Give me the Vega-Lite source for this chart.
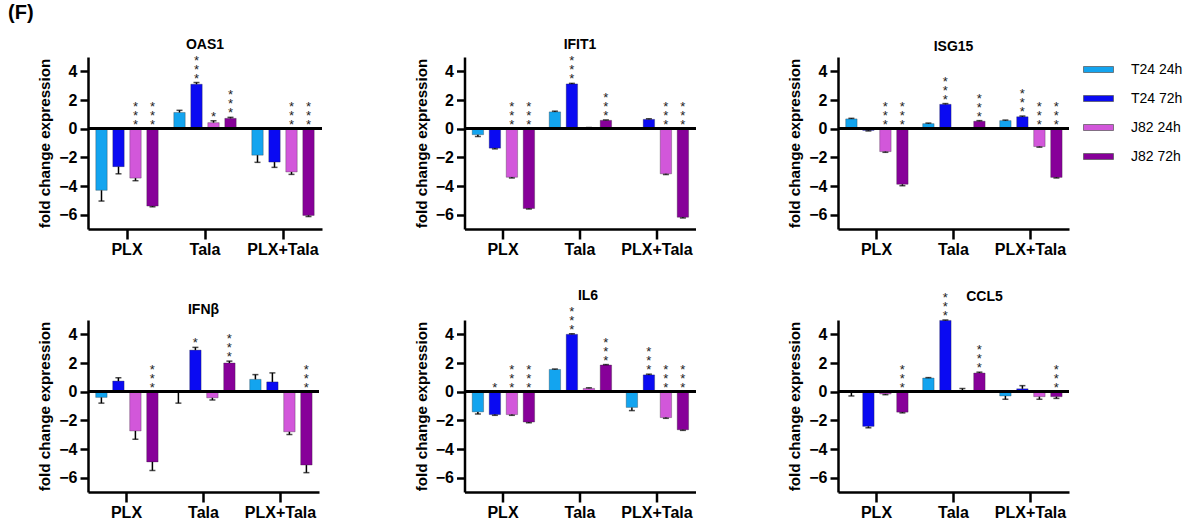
{
  "$schema": "https://vega.github.io/schema/vega-lite/v6.json",
  "padding": {"left": 8, "top": 2, "right": 0, "bottom": 0},
  "bounds": "flush",
  "columns": 3,
  "spacing": {"row": 91, "column": 142.5},
  "title": {"text": "(F)", "anchor": "start", "fontSize": 20, "fontWeight": "bold", "font": "Liberation Sans", "color": "black", "offset": 15, "dx": -80},
  "datasets": {
    "d": [
      {"g": "OAS1", "t": "PLX", "c": "T24 24h", "v": -4.3, "e": 0.75, "s": ""},
      {"g": "OAS1", "t": "PLX", "c": "T24 72h", "v": -2.65, "e": 0.5, "s": ""},
      {"g": "OAS1", "t": "PLX", "c": "J82 24h", "v": -3.45, "e": 0.18, "s": "***"},
      {"g": "OAS1", "t": "PLX", "c": "J82 72h", "v": -5.4, "e": 0.05, "s": "***"},
      {"g": "OAS1", "t": "Tala", "c": "T24 24h", "v": 1.13, "e": 0.15, "s": ""},
      {"g": "OAS1", "t": "Tala", "c": "T24 72h", "v": 3.1, "e": 0.12, "s": "***"},
      {"g": "OAS1", "t": "Tala", "c": "J82 24h", "v": 0.42, "e": 0.13, "s": "*"},
      {"g": "OAS1", "t": "Tala", "c": "J82 72h", "v": 0.72, "e": 0.07, "s": "***"},
      {"g": "OAS1", "t": "PLX+Tala", "c": "T24 24h", "v": -1.85, "e": 0.5, "s": ""},
      {"g": "OAS1", "t": "PLX+Tala", "c": "T24 72h", "v": -2.33, "e": 0.37, "s": ""},
      {"g": "OAS1", "t": "PLX+Tala", "c": "J82 24h", "v": -3.02, "e": 0.17, "s": "***"},
      {"g": "OAS1", "t": "PLX+Tala", "c": "J82 72h", "v": -6.05, "e": 0.08, "s": "***"},

      {"g": "IFIT1", "t": "PLX", "c": "T24 24h", "v": -0.42, "e": 0.12, "s": ""},
      {"g": "IFIT1", "t": "PLX", "c": "T24 72h", "v": -1.36, "e": 0.05, "s": ""},
      {"g": "IFIT1", "t": "PLX", "c": "J82 24h", "v": -3.39, "e": 0.05, "s": "***"},
      {"g": "IFIT1", "t": "PLX", "c": "J82 72h", "v": -5.57, "e": 0.04, "s": "***"},
      {"g": "IFIT1", "t": "Tala", "c": "T24 24h", "v": 1.17, "e": 0.05, "s": ""},
      {"g": "IFIT1", "t": "Tala", "c": "T24 72h", "v": 3.12, "e": 0.04, "s": "***"},
      {"g": "IFIT1", "t": "Tala", "c": "J82 24h", "v": 0.06, "e": 0.02, "s": ""},
      {"g": "IFIT1", "t": "Tala", "c": "J82 72h", "v": 0.58, "e": 0.03, "s": "***"},
      {"g": "IFIT1", "t": "PLX+Tala", "c": "T24 24h", "v": 0.0, "e": 0.0, "s": ""},
      {"g": "IFIT1", "t": "PLX+Tala", "c": "T24 72h", "v": 0.65, "e": 0.04, "s": ""},
      {"g": "IFIT1", "t": "PLX+Tala", "c": "J82 24h", "v": -3.15, "e": 0.05, "s": "***"},
      {"g": "IFIT1", "t": "PLX+Tala", "c": "J82 72h", "v": -6.18, "e": 0.05, "s": "***"},

      {"g": "ISG15", "t": "PLX", "c": "T24 24h", "v": 0.68, "e": 0.04, "s": ""},
      {"g": "ISG15", "t": "PLX", "c": "T24 72h", "v": -0.12, "e": 0.04, "s": ""},
      {"g": "ISG15", "t": "PLX", "c": "J82 24h", "v": -1.6, "e": 0.05, "s": "***"},
      {"g": "ISG15", "t": "PLX", "c": "J82 72h", "v": -3.88, "e": 0.1, "s": "***"},
      {"g": "ISG15", "t": "Tala", "c": "T24 24h", "v": 0.35, "e": 0.04, "s": ""},
      {"g": "ISG15", "t": "Tala", "c": "T24 72h", "v": 1.7, "e": 0.05, "s": "***"},
      {"g": "ISG15", "t": "Tala", "c": "J82 24h", "v": 0.0, "e": 0.0, "s": ""},
      {"g": "ISG15", "t": "Tala", "c": "J82 72h", "v": 0.52, "e": 0.04, "s": "***"},
      {"g": "ISG15", "t": "PLX+Tala", "c": "T24 24h", "v": 0.56, "e": 0.04, "s": ""},
      {"g": "ISG15", "t": "PLX+Tala", "c": "T24 72h", "v": 0.83, "e": 0.05, "s": "***"},
      {"g": "ISG15", "t": "PLX+Tala", "c": "J82 24h", "v": -1.25, "e": 0.04, "s": "***"},
      {"g": "ISG15", "t": "PLX+Tala", "c": "J82 72h", "v": -3.4, "e": 0.04, "s": "***"},

      {"g": "IFNβ", "t": "PLX", "c": "T24 24h", "v": -0.4, "e": 0.4, "s": ""},
      {"g": "IFNβ", "t": "PLX", "c": "T24 72h", "v": 0.74, "e": 0.23, "s": ""},
      {"g": "IFNβ", "t": "PLX", "c": "J82 24h", "v": -2.74, "e": 0.58, "s": ""},
      {"g": "IFNβ", "t": "PLX", "c": "J82 72h", "v": -4.9, "e": 0.6, "s": "***"},
      {"g": "IFNβ", "t": "Tala", "c": "T24 24h", "v": -0.05, "e": 0.75, "s": ""},
      {"g": "IFNβ", "t": "Tala", "c": "T24 72h", "v": 2.9, "e": 0.19, "s": "*"},
      {"g": "IFNβ", "t": "Tala", "c": "J82 24h", "v": -0.43, "e": 0.15, "s": ""},
      {"g": "IFNβ", "t": "Tala", "c": "J82 72h", "v": 2.0, "e": 0.13, "s": "***"},
      {"g": "IFNβ", "t": "PLX+Tala", "c": "T24 24h", "v": 0.86, "e": 0.33, "s": ""},
      {"g": "IFNβ", "t": "PLX+Tala", "c": "T24 72h", "v": 0.68, "e": 0.63, "s": ""},
      {"g": "IFNβ", "t": "PLX+Tala", "c": "J82 24h", "v": -2.8, "e": 0.19, "s": ""},
      {"g": "IFNβ", "t": "PLX+Tala", "c": "J82 72h", "v": -5.12, "e": 0.53, "s": "***"},

      {"g": "IL6", "t": "PLX", "c": "T24 24h", "v": -1.41, "e": 0.14, "s": ""},
      {"g": "IL6", "t": "PLX", "c": "T24 72h", "v": -1.6, "e": 0.05, "s": "*"},
      {"g": "IL6", "t": "PLX", "c": "J82 24h", "v": -1.6, "e": 0.05, "s": "***"},
      {"g": "IL6", "t": "PLX", "c": "J82 72h", "v": -2.12, "e": 0.05, "s": "***"},
      {"g": "IL6", "t": "Tala", "c": "T24 24h", "v": 1.55, "e": 0.03, "s": ""},
      {"g": "IL6", "t": "Tala", "c": "T24 72h", "v": 4.0, "e": 0.04, "s": "***"},
      {"g": "IL6", "t": "Tala", "c": "J82 24h", "v": 0.23, "e": 0.04, "s": ""},
      {"g": "IL6", "t": "Tala", "c": "J82 72h", "v": 1.86, "e": 0.03, "s": "***"},
      {"g": "IL6", "t": "PLX+Tala", "c": "T24 24h", "v": -1.1, "e": 0.22, "s": ""},
      {"g": "IL6", "t": "PLX+Tala", "c": "T24 72h", "v": 1.17, "e": 0.05, "s": "***"},
      {"g": "IL6", "t": "PLX+Tala", "c": "J82 24h", "v": -1.81, "e": 0.05, "s": "***"},
      {"g": "IL6", "t": "PLX+Tala", "c": "J82 72h", "v": -2.66, "e": 0.04, "s": "***"},

      {"g": "CCL5", "t": "PLX", "c": "T24 24h", "v": -0.05, "e": 0.25, "s": ""},
      {"g": "CCL5", "t": "PLX", "c": "T24 72h", "v": -2.42, "e": 0.1, "s": ""},
      {"g": "CCL5", "t": "PLX", "c": "J82 24h", "v": -0.16, "e": 0.05, "s": ""},
      {"g": "CCL5", "t": "PLX", "c": "J82 72h", "v": -1.43, "e": 0.05, "s": "***"},
      {"g": "CCL5", "t": "Tala", "c": "T24 24h", "v": 0.95, "e": 0.03, "s": ""},
      {"g": "CCL5", "t": "Tala", "c": "T24 72h", "v": 4.97, "e": 0.03, "s": "***"},
      {"g": "CCL5", "t": "Tala", "c": "J82 24h", "v": 0.02, "e": 0.2, "s": ""},
      {"g": "CCL5", "t": "Tala", "c": "J82 72h", "v": 1.3, "e": 0.06, "s": "***"},
      {"g": "CCL5", "t": "PLX+Tala", "c": "T24 24h", "v": -0.3, "e": 0.23, "s": ""},
      {"g": "CCL5", "t": "PLX+Tala", "c": "T24 72h", "v": 0.2, "e": 0.22, "s": ""},
      {"g": "CCL5", "t": "PLX+Tala", "c": "J82 24h", "v": -0.35, "e": 0.18, "s": ""},
      {"g": "CCL5", "t": "PLX+Tala", "c": "J82 72h", "v": -0.35, "e": 0.12, "s": "***"}
    ]
  },
  "data": {"name": "d"},
  "transform": [
    {"calculate": "datum.v >= 0 ? datum.v + datum.e : datum.v - datum.e", "as": "ee"},
    {"calculate": "datum.v > 0 ? datum.v + datum.e : 0", "as": "sy"},
    {"calculate": "length(datum.s)", "as": "n"}
  ],
  "resolve": {"scale": {"color": "shared"}},
  "concat": [
    {
      "width": 234, "height": 172,
      "title": {"text": "OAS1"},
      "transform": [{"filter": "datum.g === 'OAS1'"}],
      "layer": [
        {"mark": {"type": "bar", "stroke": "#222", "strokeWidth": 0.5, "strokeOpacity": 0.6},
         "encoding": {
           "x": {"field": "t", "type": "nominal", "title": null, "scale": {"domain": ["PLX", "Tala", "PLX+Tala"], "paddingInner": 0.2, "paddingOuter": 0.1}},
           "xOffset": {"field": "c", "type": "nominal", "scale": {"domain": ["T24 24h", "T24 72h", "J82 24h", "J82 72h"], "paddingInner": 0.33}},
           "y": {"field": "v", "type": "quantitative", "title": "fold change expression", "scale": {"domain": [-7, 5], "nice": false}},
           "color": {"field": "c", "type": "nominal", "scale": {"domain": ["T24 24h", "T24 72h", "J82 24h", "J82 72h"], "range": ["#13a4ef", "#0a0af2", "#d257da", "#870099"]}, "legend": {"title": null, "orient": "none", "legendX": 995, "legendY": -3}}
         }},
        {"mark": {"type": "rule", "color": "black", "strokeWidth": 1.5},
         "encoding": {"x": {"field": "t", "type": "nominal"}, "xOffset": {"field": "c", "type": "nominal"}, "y": {"field": "v", "type": "quantitative"}, "y2": {"field": "ee"}}},
        {"mark": {"type": "tick", "color": "black", "orient": "horizontal", "size": 6, "thickness": 1.5},
         "encoding": {"x": {"field": "t", "type": "nominal"}, "xOffset": {"field": "c", "type": "nominal"}, "y": {"field": "ee", "type": "quantitative"}}},
        {"transform": [{"filter": "datum.n >= 1"}],
         "mark": {"type": "text", "text": "*", "fontSize": 13, "baseline": "alphabetic", "dy": 0, "color": "#222", "font": "Liberation Sans"},
         "encoding": {"x": {"field": "t", "type": "nominal"}, "xOffset": {"field": "c", "type": "nominal"}, "y": {"field": "sy", "type": "quantitative"}}},
        {"transform": [{"filter": "datum.n >= 3"}],
         "mark": {"type": "text", "text": "*", "fontSize": 13, "baseline": "alphabetic", "dy": -9, "color": "#222", "font": "Liberation Sans"},
         "encoding": {"x": {"field": "t", "type": "nominal"}, "xOffset": {"field": "c", "type": "nominal"}, "y": {"field": "sy", "type": "quantitative"}}},
        {"transform": [{"filter": "datum.n >= 3"}],
         "mark": {"type": "text", "text": "*", "fontSize": 13, "baseline": "alphabetic", "dy": -18, "color": "#222", "font": "Liberation Sans"},
         "encoding": {"x": {"field": "t", "type": "nominal"}, "xOffset": {"field": "c", "type": "nominal"}, "y": {"field": "sy", "type": "quantitative"}}},
        {"mark": {"type": "rule", "color": "black", "strokeWidth": 2.5}, "encoding": {"y": {"datum": 0}}}
      ]
    },
    {
      "width": 231, "height": 172,
      "title": {"text": "IFIT1"},
      "transform": [{"filter": "datum.g === 'IFIT1'"}],
      "layer": [
        {"mark": {"type": "bar", "stroke": "#222", "strokeWidth": 0.5, "strokeOpacity": 0.6},
         "encoding": {
           "x": {"field": "t", "type": "nominal", "title": null, "scale": {"domain": ["PLX", "Tala", "PLX+Tala"], "paddingInner": 0.2, "paddingOuter": 0.1}},
           "xOffset": {"field": "c", "type": "nominal", "scale": {"domain": ["T24 24h", "T24 72h", "J82 24h", "J82 72h"], "paddingInner": 0.33}},
           "y": {"field": "v", "type": "quantitative", "title": "fold change expression", "scale": {"domain": [-7, 5], "nice": false}},
           "color": {"field": "c", "type": "nominal", "legend": {"title": null, "orient": "none", "legendX": 995, "legendY": -3}}
         }},
        {"mark": {"type": "rule", "color": "black", "strokeWidth": 1.5},
         "encoding": {"x": {"field": "t", "type": "nominal"}, "xOffset": {"field": "c", "type": "nominal"}, "y": {"field": "v", "type": "quantitative"}, "y2": {"field": "ee"}}},
        {"mark": {"type": "tick", "color": "black", "orient": "horizontal", "size": 6, "thickness": 1.5},
         "encoding": {"x": {"field": "t", "type": "nominal"}, "xOffset": {"field": "c", "type": "nominal"}, "y": {"field": "ee", "type": "quantitative"}}},
        {"transform": [{"filter": "datum.n >= 1"}],
         "mark": {"type": "text", "text": "*", "fontSize": 13, "baseline": "alphabetic", "dy": 0, "color": "#222", "font": "Liberation Sans"},
         "encoding": {"x": {"field": "t", "type": "nominal"}, "xOffset": {"field": "c", "type": "nominal"}, "y": {"field": "sy", "type": "quantitative"}}},
        {"transform": [{"filter": "datum.n >= 3"}],
         "mark": {"type": "text", "text": "*", "fontSize": 13, "baseline": "alphabetic", "dy": -9, "color": "#222", "font": "Liberation Sans"},
         "encoding": {"x": {"field": "t", "type": "nominal"}, "xOffset": {"field": "c", "type": "nominal"}, "y": {"field": "sy", "type": "quantitative"}}},
        {"transform": [{"filter": "datum.n >= 3"}],
         "mark": {"type": "text", "text": "*", "fontSize": 13, "baseline": "alphabetic", "dy": -18, "color": "#222", "font": "Liberation Sans"},
         "encoding": {"x": {"field": "t", "type": "nominal"}, "xOffset": {"field": "c", "type": "nominal"}, "y": {"field": "sy", "type": "quantitative"}}},
        {"mark": {"type": "rule", "color": "black", "strokeWidth": 2.5}, "encoding": {"y": {"datum": 0}}}
      ]
    },
    {
      "width": 231, "height": 172,
      "title": {"text": "ISG15"},
      "transform": [{"filter": "datum.g === 'ISG15'"}],
      "layer": [
        {"mark": {"type": "bar", "stroke": "#222", "strokeWidth": 0.5, "strokeOpacity": 0.6},
         "encoding": {
           "x": {"field": "t", "type": "nominal", "title": null, "scale": {"domain": ["PLX", "Tala", "PLX+Tala"], "paddingInner": 0.2, "paddingOuter": 0.1}},
           "xOffset": {"field": "c", "type": "nominal", "scale": {"domain": ["T24 24h", "T24 72h", "J82 24h", "J82 72h"], "paddingInner": 0.33}},
           "y": {"field": "v", "type": "quantitative", "title": "fold change expression", "scale": {"domain": [-7, 5], "nice": false}},
           "color": {"field": "c", "type": "nominal", "legend": {"title": null, "orient": "none", "legendX": 995, "legendY": -3}}
         }},
        {"mark": {"type": "rule", "color": "black", "strokeWidth": 1.5},
         "encoding": {"x": {"field": "t", "type": "nominal"}, "xOffset": {"field": "c", "type": "nominal"}, "y": {"field": "v", "type": "quantitative"}, "y2": {"field": "ee"}}},
        {"mark": {"type": "tick", "color": "black", "orient": "horizontal", "size": 6, "thickness": 1.5},
         "encoding": {"x": {"field": "t", "type": "nominal"}, "xOffset": {"field": "c", "type": "nominal"}, "y": {"field": "ee", "type": "quantitative"}}},
        {"transform": [{"filter": "datum.n >= 1"}],
         "mark": {"type": "text", "text": "*", "fontSize": 13, "baseline": "alphabetic", "dy": 0, "color": "#222", "font": "Liberation Sans"},
         "encoding": {"x": {"field": "t", "type": "nominal"}, "xOffset": {"field": "c", "type": "nominal"}, "y": {"field": "sy", "type": "quantitative"}}},
        {"transform": [{"filter": "datum.n >= 3"}],
         "mark": {"type": "text", "text": "*", "fontSize": 13, "baseline": "alphabetic", "dy": -9, "color": "#222", "font": "Liberation Sans"},
         "encoding": {"x": {"field": "t", "type": "nominal"}, "xOffset": {"field": "c", "type": "nominal"}, "y": {"field": "sy", "type": "quantitative"}}},
        {"transform": [{"filter": "datum.n >= 3"}],
         "mark": {"type": "text", "text": "*", "fontSize": 13, "baseline": "alphabetic", "dy": -18, "color": "#222", "font": "Liberation Sans"},
         "encoding": {"x": {"field": "t", "type": "nominal"}, "xOffset": {"field": "c", "type": "nominal"}, "y": {"field": "sy", "type": "quantitative"}}},
        {"mark": {"type": "rule", "color": "black", "strokeWidth": 2.5}, "encoding": {"y": {"datum": 0}}}
      ]
    },
    {
      "width": 231, "height": 172,
      "title": {"text": "IFNβ"},
      "transform": [{"filter": "datum.g === 'IFNβ'"}],
      "layer": [
        {"mark": {"type": "bar", "stroke": "#222", "strokeWidth": 0.5, "strokeOpacity": 0.6},
         "encoding": {
           "x": {"field": "t", "type": "nominal", "title": null, "scale": {"domain": ["PLX", "Tala", "PLX+Tala"], "paddingInner": 0.2, "paddingOuter": 0.1}},
           "xOffset": {"field": "c", "type": "nominal", "scale": {"domain": ["T24 24h", "T24 72h", "J82 24h", "J82 72h"], "paddingInner": 0.33}},
           "y": {"field": "v", "type": "quantitative", "title": "fold change expression", "scale": {"domain": [-7, 5], "nice": false}},
           "color": {"field": "c", "type": "nominal", "legend": {"title": null, "orient": "none", "legendX": 995, "legendY": -3}}
         }},
        {"mark": {"type": "rule", "color": "black", "strokeWidth": 1.5},
         "encoding": {"x": {"field": "t", "type": "nominal"}, "xOffset": {"field": "c", "type": "nominal"}, "y": {"field": "v", "type": "quantitative"}, "y2": {"field": "ee"}}},
        {"mark": {"type": "tick", "color": "black", "orient": "horizontal", "size": 6, "thickness": 1.5},
         "encoding": {"x": {"field": "t", "type": "nominal"}, "xOffset": {"field": "c", "type": "nominal"}, "y": {"field": "ee", "type": "quantitative"}}},
        {"transform": [{"filter": "datum.n >= 1"}],
         "mark": {"type": "text", "text": "*", "fontSize": 13, "baseline": "alphabetic", "dy": 0, "color": "#222", "font": "Liberation Sans"},
         "encoding": {"x": {"field": "t", "type": "nominal"}, "xOffset": {"field": "c", "type": "nominal"}, "y": {"field": "sy", "type": "quantitative"}}},
        {"transform": [{"filter": "datum.n >= 3"}],
         "mark": {"type": "text", "text": "*", "fontSize": 13, "baseline": "alphabetic", "dy": -9, "color": "#222", "font": "Liberation Sans"},
         "encoding": {"x": {"field": "t", "type": "nominal"}, "xOffset": {"field": "c", "type": "nominal"}, "y": {"field": "sy", "type": "quantitative"}}},
        {"transform": [{"filter": "datum.n >= 3"}],
         "mark": {"type": "text", "text": "*", "fontSize": 13, "baseline": "alphabetic", "dy": -18, "color": "#222", "font": "Liberation Sans"},
         "encoding": {"x": {"field": "t", "type": "nominal"}, "xOffset": {"field": "c", "type": "nominal"}, "y": {"field": "sy", "type": "quantitative"}}},
        {"mark": {"type": "rule", "color": "black", "strokeWidth": 2.5}, "encoding": {"y": {"datum": 0}}}
      ]
    },
    {
      "width": 231, "height": 172,
      "title": {"text": "IL6", "dx": 8},
      "transform": [{"filter": "datum.g === 'IL6'"}],
      "layer": [
        {"mark": {"type": "bar", "stroke": "#222", "strokeWidth": 0.5, "strokeOpacity": 0.6},
         "encoding": {
           "x": {"field": "t", "type": "nominal", "title": null, "scale": {"domain": ["PLX", "Tala", "PLX+Tala"], "paddingInner": 0.2, "paddingOuter": 0.1}},
           "xOffset": {"field": "c", "type": "nominal", "scale": {"domain": ["T24 24h", "T24 72h", "J82 24h", "J82 72h"], "paddingInner": 0.33}},
           "y": {"field": "v", "type": "quantitative", "title": "fold change expression", "scale": {"domain": [-7, 5], "nice": false}},
           "color": {"field": "c", "type": "nominal", "legend": {"title": null, "orient": "none", "legendX": 995, "legendY": -3}}
         }},
        {"mark": {"type": "rule", "color": "black", "strokeWidth": 1.5},
         "encoding": {"x": {"field": "t", "type": "nominal"}, "xOffset": {"field": "c", "type": "nominal"}, "y": {"field": "v", "type": "quantitative"}, "y2": {"field": "ee"}}},
        {"mark": {"type": "tick", "color": "black", "orient": "horizontal", "size": 6, "thickness": 1.5},
         "encoding": {"x": {"field": "t", "type": "nominal"}, "xOffset": {"field": "c", "type": "nominal"}, "y": {"field": "ee", "type": "quantitative"}}},
        {"transform": [{"filter": "datum.n >= 1"}],
         "mark": {"type": "text", "text": "*", "fontSize": 13, "baseline": "alphabetic", "dy": 0, "color": "#222", "font": "Liberation Sans"},
         "encoding": {"x": {"field": "t", "type": "nominal"}, "xOffset": {"field": "c", "type": "nominal"}, "y": {"field": "sy", "type": "quantitative"}}},
        {"transform": [{"filter": "datum.n >= 3"}],
         "mark": {"type": "text", "text": "*", "fontSize": 13, "baseline": "alphabetic", "dy": -9, "color": "#222", "font": "Liberation Sans"},
         "encoding": {"x": {"field": "t", "type": "nominal"}, "xOffset": {"field": "c", "type": "nominal"}, "y": {"field": "sy", "type": "quantitative"}}},
        {"transform": [{"filter": "datum.n >= 3"}],
         "mark": {"type": "text", "text": "*", "fontSize": 13, "baseline": "alphabetic", "dy": -18, "color": "#222", "font": "Liberation Sans"},
         "encoding": {"x": {"field": "t", "type": "nominal"}, "xOffset": {"field": "c", "type": "nominal"}, "y": {"field": "sy", "type": "quantitative"}}},
        {"mark": {"type": "rule", "color": "black", "strokeWidth": 2.5}, "encoding": {"y": {"datum": 0}}}
      ]
    },
    {
      "width": 231, "height": 172,
      "title": {"text": "CCL5", "dx": 31, "dy": 15},
      "transform": [{"filter": "datum.g === 'CCL5'"}],
      "layer": [
        {"mark": {"type": "bar", "stroke": "#222", "strokeWidth": 0.5, "strokeOpacity": 0.6},
         "encoding": {
           "x": {"field": "t", "type": "nominal", "title": null, "scale": {"domain": ["PLX", "Tala", "PLX+Tala"], "paddingInner": 0.2, "paddingOuter": 0.1}},
           "xOffset": {"field": "c", "type": "nominal", "scale": {"domain": ["T24 24h", "T24 72h", "J82 24h", "J82 72h"], "paddingInner": 0.33}},
           "y": {"field": "v", "type": "quantitative", "title": "fold change expression", "scale": {"domain": [-7, 5], "nice": false}},
           "color": {"field": "c", "type": "nominal", "legend": {"title": null, "orient": "none", "legendX": 995, "legendY": -3}}
         }},
        {"mark": {"type": "rule", "color": "black", "strokeWidth": 1.5},
         "encoding": {"x": {"field": "t", "type": "nominal"}, "xOffset": {"field": "c", "type": "nominal"}, "y": {"field": "v", "type": "quantitative"}, "y2": {"field": "ee"}}},
        {"mark": {"type": "tick", "color": "black", "orient": "horizontal", "size": 6, "thickness": 1.5},
         "encoding": {"x": {"field": "t", "type": "nominal"}, "xOffset": {"field": "c", "type": "nominal"}, "y": {"field": "ee", "type": "quantitative"}}},
        {"transform": [{"filter": "datum.n >= 1"}],
         "mark": {"type": "text", "text": "*", "fontSize": 13, "baseline": "alphabetic", "dy": 0, "color": "#222", "font": "Liberation Sans"},
         "encoding": {"x": {"field": "t", "type": "nominal"}, "xOffset": {"field": "c", "type": "nominal"}, "y": {"field": "sy", "type": "quantitative"}}},
        {"transform": [{"filter": "datum.n >= 3"}],
         "mark": {"type": "text", "text": "*", "fontSize": 13, "baseline": "alphabetic", "dy": -9, "color": "#222", "font": "Liberation Sans"},
         "encoding": {"x": {"field": "t", "type": "nominal"}, "xOffset": {"field": "c", "type": "nominal"}, "y": {"field": "sy", "type": "quantitative"}}},
        {"transform": [{"filter": "datum.n >= 3"}],
         "mark": {"type": "text", "text": "*", "fontSize": 13, "baseline": "alphabetic", "dy": -18, "color": "#222", "font": "Liberation Sans"},
         "encoding": {"x": {"field": "t", "type": "nominal"}, "xOffset": {"field": "c", "type": "nominal"}, "y": {"field": "sy", "type": "quantitative"}}},
        {"mark": {"type": "rule", "color": "black", "strokeWidth": 2.5}, "encoding": {"y": {"datum": 0}}}
      ]
    }
  ],
  "config": {
    "view": {"stroke": null},
    "font": "Liberation Sans",
    "title": {"fontSize": 14, "fontWeight": "bold", "font": "Liberation Sans", "color": "black", "offset": 3, "frame": "group", "anchor": "middle"},
    "axis": {"grid": false, "domainColor": "black", "domainWidth": 2.5, "tickColor": "black", "tickWidth": 2.5, "labelColor": "black", "labelFont": "Liberation Sans", "labelFontWeight": "bold", "labelFontSize": 16, "titleFont": "Liberation Sans", "titleFontWeight": "bold", "titleFontSize": 15.2, "titleColor": "black"},
    "axisY": {"values": [-6, -4, -2, 0, 2, 4], "tickSize": 8, "labelPadding": 3, "titlePadding": 6},
    "axisX": {"tickSize": 10, "labelPadding": 2, "labelAngle": 0, "labelFlush": false},
    "legend": {"symbolType": "M-1,-0.2H1V0.2H-1Z", "symbolSize": 900, "symbolStrokeColor": "#555", "symbolStrokeWidth": 0.7, "labelFontSize": 14, "labelFont": "Liberation Sans", "labelColor": "black", "labelOffset": 17, "rowPadding": 6}
  }
}
